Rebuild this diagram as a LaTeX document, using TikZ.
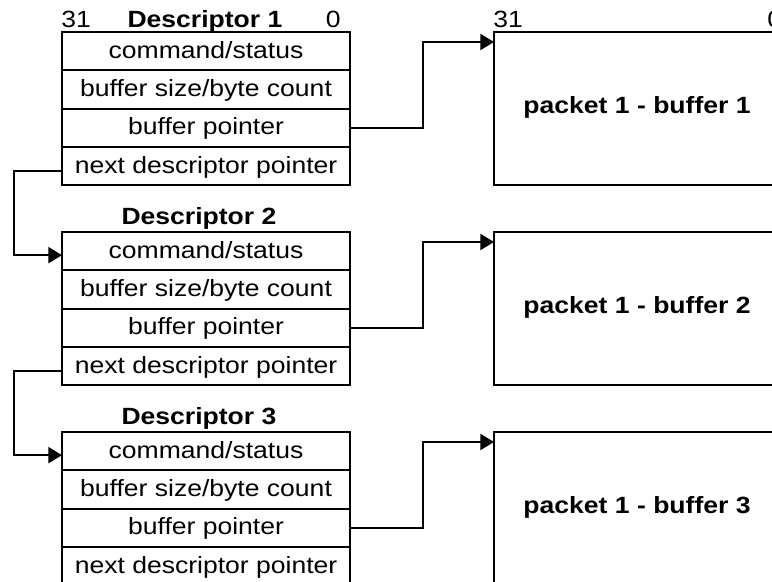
\documentclass[tikz,border=0pt]{standalone}
\usepackage{fontspec}
\setmainfont{Liberation Sans}[FakeStretch=1.13]
\usetikzlibrary{arrows.meta, positioning}

\tikzset{
  field/.style={draw, line width=1.4pt, minimum width=7.2cm, minimum height=0.958cm,
                inner sep=0pt, outer sep=0pt, text height=1.15em, text depth=0.15em},
  buffer/.style={draw, line width=1.4pt, minimum width=7.15cm, minimum height=3.825cm,
                 inner sep=0pt, outer sep=0pt, font=\fontsize{16.7pt}{19pt}\selectfont\bfseries,
                 text height=1em, text depth=0.22em},
  tag/.style={inner sep=0pt},
  title/.style={inner sep=0pt, font=\fontsize{16.7pt}{19pt}\selectfont\bfseries},
  link/.style={line width=1.4pt, -{Triangle[length=0.34cm, width=0.4cm]}}
}

\begin{document}
\begin{tikzpicture}[x=0.025cm, y=-0.025cm, font=\fontsize{16.7pt}{19pt}\selectfont]
  \useasboundingbox (0,0) rectangle (772,582);
  \clip (0,0) rectangle (772,582);

  % descriptor 1
  \node[field, anchor=north west] (d1a) at (62,32) {command/status};
  \node[field, below=0pt of d1a] (d1b) {buffer size/byte count};
  \node[field, below=0pt of d1b] (d1c) {buffer pointer};
  \node[field, below=0pt of d1c] (d1d) {next descriptor pointer};
  \node[tag, anchor=base west] (d1hi) at (61,28) {31};
  \node[tag, anchor=base east] (d1lo) at (341,28) {0};
  \node[title, anchor=base] (d1t) at (205,28) {Descriptor 1};

  % descriptor 2
  \node[field, anchor=north west] (d2a) at (62,232) {command/status};
  \node[field, below=0pt of d2a] (d2b) {buffer size/byte count};
  \node[field, below=0pt of d2b] (d2c) {buffer pointer};
  \node[field, below=0pt of d2c] (d2d) {next descriptor pointer};
  \node[title, anchor=base] (d2t) at (199,225) {Descriptor 2};

  % descriptor 3
  \node[field, anchor=north west] (d3a) at (62,432) {command/status};
  \node[field, below=0pt of d3a] (d3b) {buffer size/byte count};
  \node[field, below=0pt of d3b] (d3c) {buffer pointer};
  \node[field, below=0pt of d3c] (d3d) {next descriptor pointer};
  \node[title, anchor=base] (d3t) at (199,425) {Descriptor 3};

  % the packet buffers
  \node[buffer, anchor=north west] (b1) at (494,32) {packet 1 - buffer 1};
  \node[buffer, anchor=north west] (b2) at (494,232) {packet 1 - buffer 2};
  \node[buffer, anchor=north west] (b3) at (494,432) {packet 1 - buffer 3};
  \node[tag, anchor=base west] (b1hi) at (493,28) {31};
  \node[tag, anchor=base west] (b1lo) at (767,28) {0};

  % buffer pointer -> buffer
  \draw[link] (d1c.east) -- ++(73,0) |- ([yshift=-0.25cm]b1.north west);
  \draw[link] (d2c.east) -- ++(73,0) |- ([yshift=-0.25cm]b2.north west);
  \draw[link] (d3c.east) -- ++(73,0) |- ([yshift=-0.25cm]b3.north west);

  % next descriptor pointer -> next descriptor
  \draw[link] ([yshift=-0.12cm]d1d.west) -- ++(-48,0) |- ([yshift=-0.1cm]d2a.west);
  \draw[link] ([yshift=-0.12cm]d2d.west) -- ++(-48,0) |- ([yshift=-0.1cm]d3a.west);
\end{tikzpicture}
\end{document}
